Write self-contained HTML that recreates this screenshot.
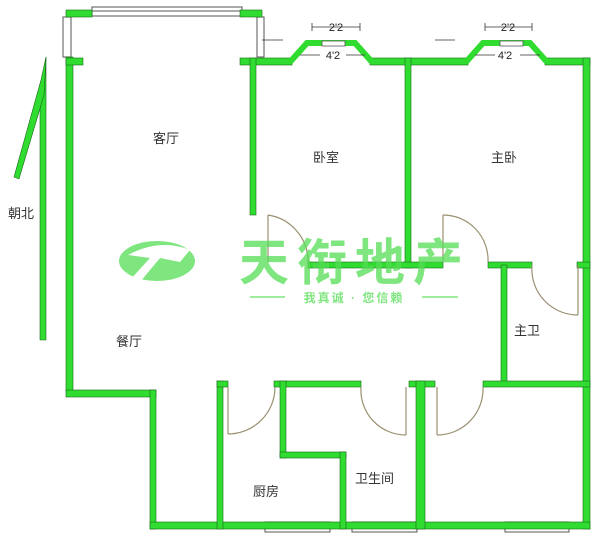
<!DOCTYPE html>
<html><head><meta charset="utf-8"><style>
html,body{margin:0;padding:0;background:#fff;width:600px;height:540px;overflow:hidden}
svg{display:block}
text{font-family:"Liberation Sans","Noto Sans CJK SC",sans-serif}
</style></head><body>
<svg width="600" height="540" viewBox="0 0 600 540" xmlns="http://www.w3.org/2000/svg">
<g fill="#fff" stroke="#555" stroke-width="1">
<rect x="92" y="7" width="150" height="9"/><line x1="92" y1="11" x2="242" y2="11"/>
<rect x="63" y="17" width="8" height="40"/>
<rect x="257" y="17" width="7" height="40"/>
<rect x="265" y="522" width="65" height="10"/>
<rect x="352" y="522" width="65" height="10"/>
<rect x="505" y="522" width="64" height="10"/>
</g>
<g fill="#2fdc2f" stroke="#1a6a1a" stroke-width="0.6">
<rect x="66" y="10" width="26" height="7"/>
<rect x="240" y="10" width="22" height="7"/>
<rect x="66" y="57" width="7" height="335"/>
<rect x="66" y="58" width="17" height="7"/>
<rect x="240" y="58" width="52" height="7"/>
<rect x="250" y="58" width="6" height="157"/>
<rect x="370" y="58" width="98" height="7"/>
<rect x="405" y="58" width="6" height="210"/>
<rect x="545" y="58" width="45" height="7"/>
<rect x="583" y="58" width="7" height="471"/>
<rect x="308" y="262" width="135" height="6"/>
<rect x="488" y="262" width="44" height="6"/>
<rect x="577" y="262" width="13" height="6"/>
<rect x="501" y="265" width="6" height="118"/>
<rect x="66" y="390" width="90" height="7"/>
<rect x="150" y="390" width="6" height="139"/>
<rect x="150" y="522" width="440" height="7"/>
<rect x="217" y="381" width="6" height="148"/>
<rect x="217" y="381" width="11" height="6"/>
<rect x="274" y="381" width="87" height="6"/>
<rect x="409" y="381" width="26" height="6"/>
<rect x="483" y="381" width="107" height="6"/>
<rect x="280" y="381" width="6" height="77"/>
<rect x="280" y="452" width="66" height="6"/>
<rect x="340" y="452" width="6" height="77"/>
<rect x="416" y="381" width="9" height="148"/>
</g>
<g fill="none" stroke="#2fdc2f" stroke-width="6" stroke-linejoin="miter">
<polyline points="290,62 307,43 355,43 372,62"/>
<polyline points="466,62 483,43 530,43 547,62"/>
</g>
<g fill="#fff" stroke="#555" stroke-width="0.8">
<rect x="322" y="41" width="23" height="5"/>
<rect x="500" y="41" width="23" height="5"/>
</g>
<g stroke="#333" stroke-width="0.8" fill="none">
<line x1="312" y1="27" x2="360" y2="27"/><line x1="312" y1="23" x2="312" y2="31"/><line x1="360" y1="23" x2="360" y2="31"/>
<line x1="485" y1="27" x2="532" y2="27"/><line x1="485" y1="23" x2="485" y2="31"/><line x1="532" y1="23" x2="532" y2="31"/>
<line x1="300" y1="55" x2="320" y2="55"/><line x1="346" y1="55" x2="365" y2="55"/>
<line x1="475" y1="55" x2="495" y2="55"/><line x1="520" y1="55" x2="540" y2="55"/>
<line x1="435" y1="40" x2="455" y2="40"/><line x1="262" y1="40" x2="283" y2="40"/>
</g>
<g font-size="11" fill="#222" text-anchor="middle">
<text x="336" y="31">2'2</text><text x="508" y="31">2'2</text>
<text x="333" y="59">4'2</text><text x="505" y="59">4'2</text>
</g>
<g fill="none" stroke="#9a9070" stroke-width="1.2">
<line x1="268" y1="215" x2="268" y2="262"/><path d="M268,215 A47,47 0 0 1 308,262"/>
<line x1="443" y1="215" x2="443" y2="262"/><path d="M443,215 A45,45 0 0 1 488,262"/>
<line x1="578" y1="265" x2="578" y2="315"/><path d="M578,315 A46,46 0 0 1 532,265"/>
<line x1="228" y1="387" x2="228" y2="434"/><path d="M228,434 A47,47 0 0 0 275,387"/>
<line x1="406" y1="387" x2="406" y2="435"/><path d="M406,435 A45,45 0 0 1 361,387"/>
<line x1="437" y1="387" x2="437" y2="435"/><path d="M437,435 A46,46 0 0 0 483,387"/>
</g>
<polygon points="46,57 40,110 40,340 46,340" fill="#2fdc2f" stroke="#1a6a1a" stroke-width="0.6"/>
<polygon points="46,57 41,80 14,177 19,179 44,95" fill="#2fdc2f" stroke="#1a6a1a" stroke-width="0.6"/>
<g font-size="13" fill="#333">
<text x="8" y="218">朝北</text>
<text x="153" y="143">客厅</text>
<text x="313" y="162">卧室</text>
<text x="491" y="162">主卧</text>
<text x="116" y="346">餐厅</text>
<text x="514" y="335">主卫</text>
<text x="253" y="496">厨房</text>
<text x="355" y="483">卫生间</text>
</g>
<g opacity="0.75">
<ellipse cx="157" cy="261" rx="38" ry="20" fill="#55dd55"/>
<path d="M128,255 Q160,238 190,250 L180,262 L160,258 L140,282 L130,280 L150,258 Z" fill="#fff"/>
<text x="355" y="280" font-size="50" font-weight="bold" fill="#55dd55" text-anchor="middle" letter-spacing="8">天衔地产</text>
<line x1="250" y1="297" x2="285" y2="297" stroke="#55dd55" stroke-width="1.5"/>
<line x1="422" y1="297" x2="458" y2="297" stroke="#55dd55" stroke-width="1.5"/>
<text x="354" y="302" font-size="12" font-weight="bold" fill="#55dd55" text-anchor="middle" letter-spacing="2">我真诚 · 您信赖</text>
</g>
</svg>
</body></html>
